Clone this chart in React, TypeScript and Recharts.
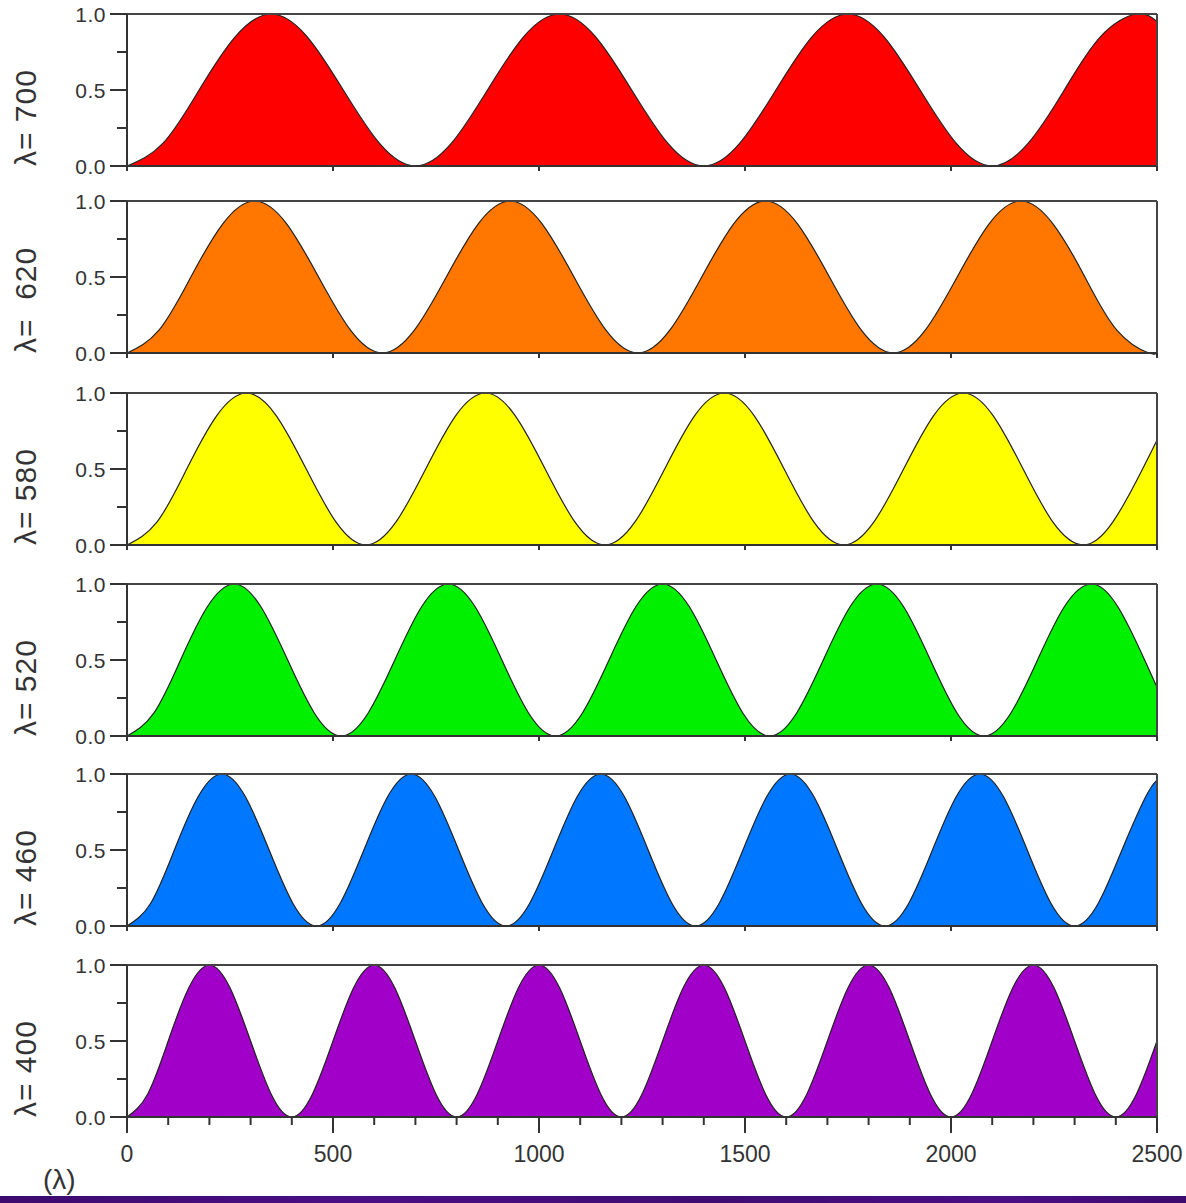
import { AreaChart, Area, XAxis, YAxis, ReferenceLine } from "recharts";

const FONT = '"Liberation Sans", Arial, Helvetica, sans-serif';
const INK = "#333";

// x ticks
const xMajor = [0, 500, 1000, 1500, 2000, 2500];
const xLabels = ["0", "500", "1000", "1500", "2000", "2500"];
const xMinor = [0, 100, 200, 300, 400, 500, 600, 700, 800, 900, 1000, 1100, 1200, 1300, 1400, 1500, 1600, 1700, 1800, 1900, 2000, 2100, 2200, 2300, 2400, 2500];

// y ticks
const yAll = [0, 0.25, 0.5, 0.75, 1];
const yMajor = [0, 0.5, 1];
const yLabels = ["0.0", "0.5", "1.0"];

// panel values
const x700 = [0, 87.5, 175, 262.5, 350, 437.5, 525, 612.5, 700, 787.5, 875, 962.5, 1050, 1137.5, 1225, 1312.5, 1400, 1487.5, 1575, 1662.5, 1750, 1837.5, 1925, 2012.5, 2100, 2187.5, 2275, 2362.5, 2450, 2500];
const y700 = [0, 0.15, 0.5, 0.85, 1, 0.85, 0.5, 0.15, 0, 0.15, 0.5, 0.85, 1, 0.85, 0.5, 0.15, 0, 0.15, 0.5, 0.85, 1, 0.85, 0.5, 0.15, 0, 0.15, 0.5, 0.85, 1, 0.95];

const x620 = [0, 77.5, 155, 232.5, 310, 387.5, 465, 542.5, 620, 697.5, 775, 852.5, 930, 1007.5, 1085, 1162.5, 1240, 1317.5, 1395, 1472.5, 1550, 1627.5, 1705, 1782.5, 1860, 1937.5, 2015, 2092.5, 2170, 2247.5, 2325, 2402.5, 2480, 2500];
const y620 = [0, 0.15, 0.5, 0.85, 1, 0.85, 0.5, 0.15, 0, 0.15, 0.5, 0.85, 1, 0.85, 0.5, 0.15, 0, 0.15, 0.5, 0.85, 1, 0.85, 0.5, 0.15, 0, 0.15, 0.5, 0.85, 1, 0.85, 0.5, 0.15, 0, 0.01];

const x580 = [0, 72.5, 145, 217.5, 290, 362.5, 435, 507.5, 580, 652.5, 725, 797.5, 870, 942.5, 1015, 1087.5, 1160, 1232.5, 1305, 1377.5, 1450, 1522.5, 1595, 1667.5, 1740, 1812.5, 1885, 1957.5, 2030, 2102.5, 2175, 2247.5, 2320, 2392.5, 2465, 2500];
const y580 = [0, 0.15, 0.5, 0.85, 1, 0.85, 0.5, 0.15, 0, 0.15, 0.5, 0.85, 1, 0.85, 0.5, 0.15, 0, 0.15, 0.5, 0.85, 1, 0.85, 0.5, 0.15, 0, 0.15, 0.5, 0.85, 1, 0.85, 0.5, 0.15, 0, 0.15, 0.5, 0.69];

const x520 = [0, 65, 130, 195, 260, 325, 390, 455, 520, 585, 650, 715, 780, 845, 910, 975, 1040, 1105, 1170, 1235, 1300, 1365, 1430, 1495, 1560, 1625, 1690, 1755, 1820, 1885, 1950, 2015, 2080, 2145, 2210, 2275, 2340, 2405, 2470, 2500];
const y520 = [0, 0.15, 0.5, 0.85, 1, 0.85, 0.5, 0.15, 0, 0.15, 0.5, 0.85, 1, 0.85, 0.5, 0.15, 0, 0.15, 0.5, 0.85, 1, 0.85, 0.5, 0.15, 0, 0.15, 0.5, 0.85, 1, 0.85, 0.5, 0.15, 0, 0.15, 0.5, 0.85, 1, 0.85, 0.5, 0.32];

const x460 = [0, 57.5, 115, 172.5, 230, 287.5, 345, 402.5, 460, 517.5, 575, 632.5, 690, 747.5, 805, 862.5, 920, 977.5, 1035, 1092.5, 1150, 1207.5, 1265, 1322.5, 1380, 1437.5, 1495, 1552.5, 1610, 1667.5, 1725, 1782.5, 1840, 1897.5, 1955, 2012.5, 2070, 2127.5, 2185, 2242.5, 2300, 2357.5, 2415, 2472.5, 2500];
const y460 = [0, 0.15, 0.5, 0.85, 1, 0.85, 0.5, 0.15, 0, 0.15, 0.5, 0.85, 1, 0.85, 0.5, 0.15, 0, 0.15, 0.5, 0.85, 1, 0.85, 0.5, 0.15, 0, 0.15, 0.5, 0.85, 1, 0.85, 0.5, 0.15, 0, 0.15, 0.5, 0.85, 1, 0.85, 0.5, 0.15, 0, 0.15, 0.5, 0.85, 0.96];

const x400 = [0, 50, 100, 150, 200, 250, 300, 350, 400, 450, 500, 550, 600, 650, 700, 750, 800, 850, 900, 950, 1000, 1050, 1100, 1150, 1200, 1250, 1300, 1350, 1400, 1450, 1500, 1550, 1600, 1650, 1700, 1750, 1800, 1850, 1900, 1950, 2000, 2050, 2100, 2150, 2200, 2250, 2300, 2350, 2400, 2450, 2500];
const y400 = [0, 0.15, 0.5, 0.85, 1, 0.85, 0.5, 0.15, 0, 0.15, 0.5, 0.85, 1, 0.85, 0.5, 0.15, 0, 0.15, 0.5, 0.85, 1, 0.85, 0.5, 0.15, 0, 0.15, 0.5, 0.85, 1, 0.85, 0.5, 0.15, 0, 0.15, 0.5, 0.85, 1, 0.85, 0.5, 0.15, 0, 0.15, 0.5, 0.85, 1, 0.85, 0.5, 0.15, 0, 0.15, 0.5];

const panels = [
  { label: "λ= 700", color: "#ff0000", xs: x700, ys: y700 },
  { label: "λ=  620", color: "#ff7700", xs: x620, ys: y620 },
  { label: "λ= 580", color: "#ffff00", xs: x580, ys: y580 },
  { label: "λ= 520", color: "#00f000", xs: x520, ys: y520 },
  { label: "λ= 460", color: "#0077ff", xs: x460, ys: y460 },
  { label: "λ= 400", color: "#a000c8", xs: x400, ys: y400 },
];

const TOPS = [14, 201, 393, 584, 774, 965];
const PLOT_H = 152;
const PAD_TOP = 12;

function YTick(p: any) {
  const v = p.payload.value;
  const k = yMajor.indexOf(v);
  const len = k >= 0 ? 17 : 10;
  return (
    <g>
      <line x1={p.x - len} x2={p.x} y1={p.y} y2={p.y} stroke={INK} strokeWidth={2} />
      {k >= 0 && (
        <text x={p.x - 21} y={p.y} dy="0.36em" textAnchor="end" fontSize={21} letterSpacing={0.5} fill={INK} fontFamily={FONT}>
          {yLabels[k]}
        </text>
      )}
    </g>
  );
}

function XTickSmall(p: any) {
  return <line x1={p.x} x2={p.x} y1={p.y} y2={p.y + 5} stroke={INK} strokeWidth={2} />;
}

function XTickBottom(p: any) {
  const v = p.payload.value;
  const k = xMajor.indexOf(v);
  const len = k >= 0 ? 16 : 8;
  return (
    <g>
      <line x1={p.x} x2={p.x} y1={p.y} y2={p.y + len} stroke={INK} strokeWidth={2} />
      {k >= 0 && (
        <text x={p.x} y={p.y + 45} textAnchor="middle" fontSize={23} fill={INK} fontFamily={FONT}>
          {xLabels[k]}
        </text>
      )}
    </g>
  );
}

function Panel({ i }: { i: number }) {
  const pn = panels[i];
  const last = i === panels.length - 1;
  const axisH = last ? 60 : 20;
  const data = pn.xs.map((x, j) => ({ x, y: pn.ys[j] }));
  return (
    <div style={{ position: "absolute", left: 0, top: TOPS[i] - PAD_TOP }}>
      <AreaChart width={1186} height={PAD_TOP + PLOT_H + axisH} data={data} margin={{ top: PAD_TOP, right: 29, bottom: 0, left: 0 }}>
        <XAxis
          type="number"
          dataKey="x"
          domain={[0, 2500]}
          ticks={last ? xMinor : xMajor}
          interval={0}
          tickSize={0}
          tickMargin={0}
          height={axisH}
          tick={last ? (p: any) => <XTickBottom {...p} /> : (p: any) => <XTickSmall {...p} />}
          axisLine={{ stroke: INK, strokeWidth: 2 }}
        />
        <YAxis
          type="number"
          domain={[0, 1]}
          ticks={yAll}
          interval={0}
          width={127}
          tickSize={0}
          tickMargin={0}
          tick={(p: any) => <YTick {...p} />}
          axisLine={{ stroke: INK, strokeWidth: 2 }}
        />
        <Area
          type="natural"
          dataKey="y"
          stroke="#222"
          strokeWidth={1.2}
          fill={pn.color}
          fillOpacity={1}
          baseValue={0}
          isAnimationActive={false}
        />
        <ReferenceLine y={1} stroke="#444" strokeWidth={2} />
        <ReferenceLine x={2500} stroke="#444" strokeWidth={2} />
      </AreaChart>
      <div
        style={{
          position: "absolute",
          left: 9,
          top: PAD_TOP + PLOT_H,
          transform: "rotate(-90deg)",
          transformOrigin: "0 0",
          whiteSpace: "pre",
          fontFamily: FONT,
          fontSize: 30,
          letterSpacing: 1,
          lineHeight: "34px",
          color: INK,
        }}
      >
        {pn.label}
      </div>
    </div>
  );
}

export default function App() {
  return (
    <div style={{ position: "absolute", left: 0, top: 0, width: 1186, height: 1203, overflow: "hidden", background: "#fff" }}>
      {panels.map((_, i) => (
        <Panel key={i} i={i} />
      ))}
      <div style={{ position: "absolute", left: 43, top: 1164, fontFamily: FONT, fontSize: 28, color: INK }}>(λ)</div>
      <div
        style={{
          position: "absolute",
          left: 0,
          top: 1196,
          width: 1186,
          height: 7,
          background: "linear-gradient(90deg, #3c0a6e, #4a0e84 30%, #3e0b72 60%, #4a0e84 85%, #3c0a6e)",
        }}
      />
    </div>
  );
}
